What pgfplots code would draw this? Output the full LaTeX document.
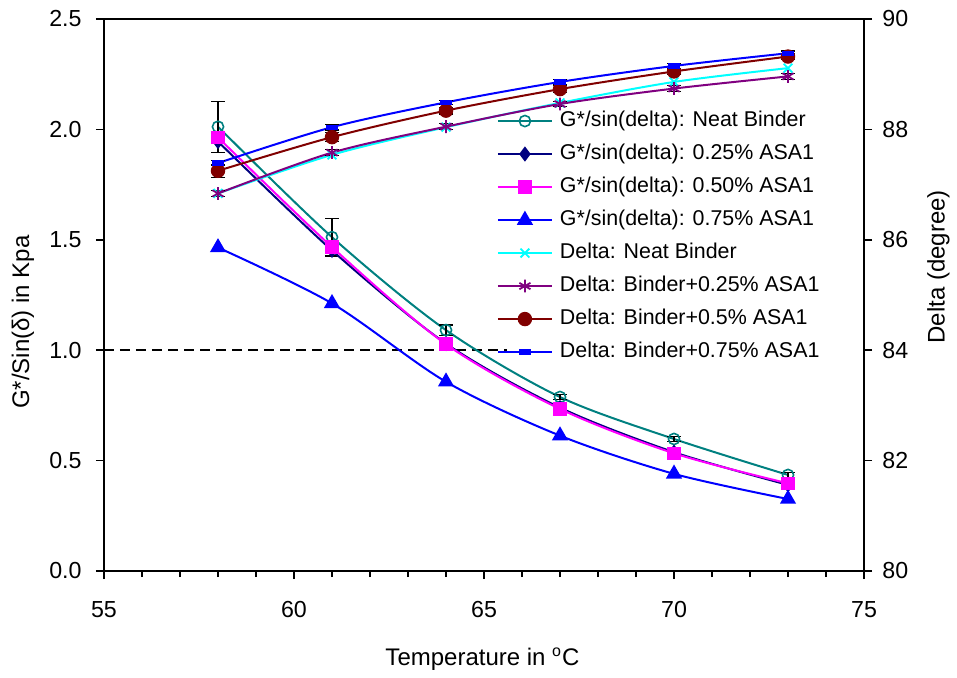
\documentclass[border=0pt]{standalone}
\usepackage{fontspec}
\setmainfont{Liberation Sans}
\usepackage{pgfplots}
\usepackage{pgfplotstable}
\pgfplotsset{compat=1.18}
\definecolor{cteal}{RGB}{0,128,128}
\definecolor{cnavy}{RGB}{0,0,128}
\definecolor{cmag}{RGB}{255,0,255}
\definecolor{cblue}{RGB}{0,0,255}
\definecolor{ccyan}{RGB}{0,255,255}
\definecolor{cpurple}{RGB}{128,0,128}
\definecolor{cbrown}{RGB}{128,0,0}

\pgfplotstableread{
x  y     e
58 2.012 0.115
61 1.512 0.085
64 1.091 0.023
67 0.788 0.012
70 0.598 0.010
73 0.435 0.010
}\gneat
\pgfplotstableread{
x  y
58 1.945
61 1.452
64 1.030
67 0.740
70 0.538
73 0.390
}\gtwentyfive
\pgfplotstableread{
x  y
58 1.964
61 1.467
64 1.027
67 0.734
70 0.533
73 0.397
}\gfifty
\pgfplotstableread{
x  y
58 1.465
61 1.212
64 0.857
67 0.613
70 0.440
73 0.326
}\gseventyfive
\pgfplotstableread{
x  y
58 86.84
61 87.54
64 88.04
67 88.48
70 88.86
73 89.11
}\dneat
\pgfplotstableread{
x  y     e
58 86.84 0.05
61 87.58 0.05
64 88.05 0.05
67 88.46 0.05
70 88.74 0.05
73 88.96 0.05
}\dtwentyfive
\pgfplotstableread{
x  y     e
58 87.25 0.12
61 87.86 0.08
64 88.34 0.06
67 88.73 0.06
70 89.05 0.06
73 89.32 0.06
}\dfifty
\pgfplotstableread{
x  y     e
58 87.39 0.05
61 88.04 0.05
64 88.49 0.04
67 88.86 0.04
70 89.15 0.04
73 89.38 0.04
}\dseventyfive

\pgfplotsset{
  base/.style={
    width=380pt, height=276pt, scale only axis,
    xmin=55, xmax=75,
    tick align=outside,
    major tick length=4pt, minor tick length=3pt,
    axis line style={line width=1pt},
    every tick/.style={black, line width=0.8pt},
    tick label style={font=\fontsize{11.6}{14}\selectfont},
    /pgf/number format/assume math mode=true,
  },
  ebar/.style={error bars/.cd, y dir=both, y explicit,
    error bar style={black, line width=0.6pt, solid},
    error mark options={black, rotate=90, mark size=3.5pt, line width=0.6pt, solid}},
  s1/.style={cteal, line width=1pt, mark=o, mark size=2.8pt, mark options={solid, line width=0.8pt}},
  s2/.style={cnavy, line width=1pt, mark=diamond*, mark size=3pt, mark options={solid}},
  s3/.style={cmag, line width=1pt, mark=square*, mark size=2.9pt, mark options={solid}},
  s4/.style={cblue, line width=1pt, mark=triangle*, mark size=3.7pt, mark options={solid}},
  s5/.style={ccyan, line width=1pt, mark=x, mark size=3.1pt, mark options={solid, line width=0.9pt}},
  s6/.style={cpurple, line width=1pt, mark=asterisk, mark size=3.2pt, mark options={solid, line width=0.9pt}},
  s7/.style={cbrown, line width=1pt, mark=*, mark size=3.1pt, mark options={solid}},
  s8/.style={cblue, line width=1pt, mark=-, mark size=3pt, mark options={solid, line width=2.6pt}},
}

\begin{document}
\begin{tikzpicture}
\begin{axis}[base,
  ymin=0, ymax=2.5,
  ytick={0,0.5,1,1.5,2,2.5},
  xtick={55,60,65,70,75},
  minor x tick num=4,
  xtick pos=bottom, ytick pos=left,
  yticklabel style={/pgf/number format/fixed, /pgf/number format/fixed zerofill, /pgf/number format/precision=1},
  yticklabel style={anchor=east, inner sep=0pt, xshift=-7pt},
  xticklabel style={anchor=north, inner sep=0pt, yshift=-11pt},
  every axis x label/.style={at={(axis description cs:0.498,-0.1703)}, anchor=base, font=\fontsize{12}{14}\selectfont},
  every axis y label/.style={at={(axis description cs:-0.1066,0.451)}, anchor=center, rotate=90, font=\fontsize{12}{14}\selectfont},
  xlabel={Temperature in \textsuperscript{o}C},
  ylabel={G*/Sin(δ) in Kpa},
]
\addplot[black, line width=0.8pt, dash pattern=on 5pt off 3pt] coordinates {(55,1) (65.6,1)};
\addplot[s1, smooth, ebar] table[x=x, y=y, y error=e] {\gneat};
\addplot[s2, smooth] table[x=x, y=y] {\gtwentyfive};
\addplot[s3, smooth] table[x=x, y=y] {\gfifty};
\addplot[s4, smooth] table[x=x, y=y] {\gseventyfive};
\end{axis}

\begin{axis}[base,
  ymin=80, ymax=90,
  ytick={80,82,84,86,88,90},
  axis y line*=right, axis x line=none,
  yticklabel style={anchor=west, inner sep=0pt, xshift=5pt},
  every axis y label/.style={at={(axis description cs:1.098,0.551)}, anchor=center, rotate=90, font=\fontsize{12}{14}\selectfont},
  ylabel={Delta (degree)},
  legend cell align=left,
  legend style={at={(axis description cs:0.517,0.8414)}, anchor=north west,
    draw=none, fill=none, inner sep=0pt, outer sep=0pt,
    row sep=2pt, column sep=1.5pt,
    font=\fontsize{10.7}{12}\selectfont,
    nodes={inner sep=2pt, text height=8pt, text depth=2.5pt}},
  legend image code/.code={
    \draw[mark repeat=2, mark phase=2, #1] plot coordinates {(0pt,0pt) (13.5pt,0pt) (27pt,0pt)};
  },
]
\addlegendimage{s1}
\addlegendentry{G*/sin(delta): Neat Binder}
\addlegendimage{s2}
\addlegendentry{G*/sin(delta): 0.25\% ASA1}
\addlegendimage{s3}
\addlegendentry{G*/sin(delta): 0.50\% ASA1}
\addlegendimage{s4}
\addlegendentry{G*/sin(delta): 0.75\% ASA1}
\addplot[s5, smooth] table[x=x, y=y] {\dneat};
\addlegendentry{Delta: Neat Binder}
\addplot[s6, smooth, ebar] table[x=x, y=y, y error=e] {\dtwentyfive};
\addlegendentry{Delta: Binder+0.25\% ASA1}
\addplot[s7, smooth, ebar] table[x=x, y=y, y error=e] {\dfifty};
\addlegendentry{Delta: Binder+0.5\% ASA1}
\addplot[s8, smooth, ebar] table[x=x, y=y, y error=e] {\dseventyfive};
\addlegendentry{Delta: Binder+0.75\% ASA1}
\end{axis}
\pgfresetboundingbox
\path[use as bounding box] (-52pt,-53pt) rectangle (426.5pt,285.5pt);
\end{tikzpicture}
\end{document}
